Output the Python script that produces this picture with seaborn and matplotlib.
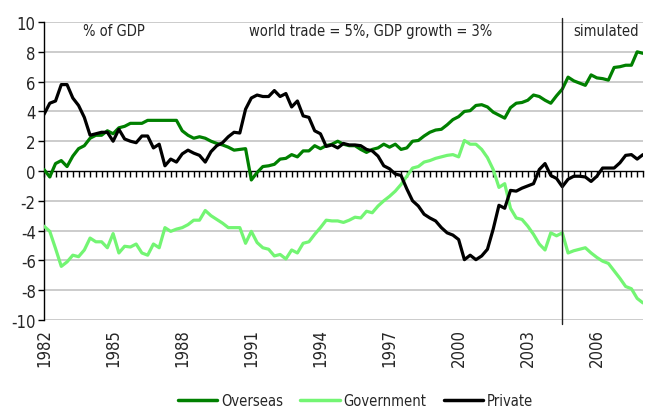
import numpy as np
import pandas as pd
import matplotlib.pyplot as plt
import seaborn as sns
from matplotlib.lines import Line2D

sns.set_theme(style="white")
plt.rcParams['font.family'] = ['DejaVu Sans']
plt.rcParams['font.stretch'] = 'condensed'
plt.rcParams['axes.unicode_minus'] = False

# quarterly, 1982Q1 .. 2008Q1
quarters = 1982 + 0.25 * np.arange(105)

overseas = [0.1, -0.4, 0.5, 0.7, 0.3, 1.0, 1.5, 1.7, 2.2, 2.4, 2.4, 2.7, 2.5, 2.9, 3.0, 3.2, 3.2, 3.2,
            3.4, 3.4, 3.4, 3.4, 3.4, 3.4, 2.7, 2.4, 2.2, 2.3, 2.2, 2.0, 1.85, 1.75, 1.6, 1.4, 1.45, 1.5,
            -0.6, -0.1, 0.3, 0.35, 0.45, 0.8, 0.85, 1.1, 0.95, 1.35, 1.35, 1.7, 1.5, 1.7, 1.8, 2.0, 1.8,
            1.7, 1.7, 1.45, 1.25, 1.45, 1.55, 1.8, 1.6, 1.8, 1.45, 1.55, 2.0, 2.05, 2.35, 2.6, 2.75, 2.8,
            3.1, 3.45, 3.65, 4.0, 4.05, 4.4, 4.45, 4.3, 3.95, 3.75, 3.55, 4.25, 4.55, 4.6, 4.75, 5.1, 5.0,
            4.75, 4.55, 5.05, 5.5, 6.3, 6.05, 5.9, 5.75, 6.45, 6.25, 6.2, 6.1, 6.95, 7.0, 7.1, 7.1, 8.0, 7.9]

government = [-3.7, -4.05, -5.2, -6.4, -6.1, -5.65, -5.75, -5.3, -4.5, -4.75, -4.75, -5.15, -4.2, -5.5,
              -5.05, -5.1, -4.9, -5.5, -5.65, -4.9, -5.15, -3.8, -4.05, -3.9, -3.8, -3.6, -3.3, -3.3,
              -2.65, -3.0, -3.25, -3.5, -3.8, -3.8, -3.8, -4.85, -4.05, -4.8, -5.15, -5.25, -5.7, -5.6,
              -5.9, -5.3, -5.5, -4.85, -4.75, -4.25, -3.8, -3.3, -3.35, -3.35, -3.45, -3.3, -3.1, -3.15,
              -2.7, -2.8, -2.35, -2.0, -1.7, -1.35, -0.9, -0.35, 0.2, 0.3, 0.6, 0.7, 0.85, 0.95, 1.05,
              1.1, 0.95, 2.05, 1.8, 1.8, 1.45, 0.9, 0.1, -1.1, -0.85, -2.5, -3.15, -3.25, -3.7, -4.25,
              -4.9, -5.3, -4.15, -4.35, -4.15, -5.5, -5.35, -5.25, -5.15, -5.5, -5.8, -6.05, -6.2, -6.7,
              -7.2, -7.75, -7.9, -8.55, -8.85]

private = [3.8, 4.55, 4.7, 5.8, 5.8, 4.9, 4.4, 3.6, 2.4, 2.5, 2.6, 2.6, 2.0, 2.8, 2.15, 2.0, 1.9, 2.35,
           2.35, 1.55, 1.8, 0.35, 0.8, 0.6, 1.15, 1.4, 1.2, 1.05, 0.6, 1.3, 1.7, 1.9, 2.3, 2.6, 2.55, 4.15,
           4.9, 5.1, 5.0, 5.0, 5.4, 5.0, 5.2, 4.3, 4.7, 3.7, 3.6, 2.7, 2.5, 1.65, 1.75, 1.55, 1.85, 1.75,
           1.75, 1.7, 1.45, 1.35, 1.0, 0.35, 0.15, -0.2, -0.3, -1.2, -2.0, -2.35, -2.9, -3.15, -3.35, -3.8,
           -4.15, -4.3, -4.6, -5.95, -5.65, -5.95, -5.7, -5.25, -3.9, -2.3, -2.5, -1.3, -1.35, -1.15, -1.0,
           -0.85, 0.1, 0.5, -0.3, -0.5, -1.05, -0.55, -0.35, -0.35, -0.4, -0.7, -0.35, 0.2, 0.2, 0.2, 0.55,
           1.05, 1.1, 0.8, 1.1]

series_names = ['Overseas', 'Government', 'Private']
colours = ['#008000', '#73F573', '#000000']
year_ticks = [1982, 1985, 1988, 1991, 1994, 1997, 2000, 2003, 2006]
sim_start = 2004.5

df = pd.DataFrame({
    'quarter': np.tile(quarters, 3),
    'value': np.concatenate([overseas, government, private]),
    'series': np.repeat(series_names, len(quarters)),
})

fig = plt.figure(figsize=(6.51, 4.14), dpi=100)
ax = fig.add_axes([0.0676, 0.2246, 0.92, 0.7198])

# grid lines first so the data sits on top
for v in range(-10, 11, 2):
    if v != 0:
        ax.axhline(v, color='#c8c8c8', linewidth=1.3, zorder=0)

sns.lineplot(data=df, x='quarter', y='value', hue='series', hue_order=series_names,
             palette=colours, linewidth=2.3, legend=False, ax=ax, zorder=3)

ax.set_xlim(quarters[0], quarters[-1])
ax.set_ylim(-10, 10)
ax.set_xlabel('')
ax.set_ylabel('')

# quarter ticks on the zero line
ax.spines['bottom'].set_position(('data', 0))
ax.spines['top'].set_visible(False)
ax.spines['right'].set_visible(False)
for s in ['bottom', 'left']:
    ax.spines[s].set_color('black')
    ax.spines[s].set_linewidth(1.0)
ax.set_xticks(quarters)
ax.set_xticklabels([])
ax.tick_params(axis='x', direction='out', length=4.5, width=1, color='black', bottom=True)
ax.set_yticks(range(-10, 11, 2))
ax.tick_params(axis='y', direction='out', length=4, width=1, color='black', left=True,
               labelsize=12, pad=2)

# year labels along the bottom
sec = ax.secondary_xaxis(0)
sec.set_xticks(year_ticks)
sec.set_xticklabels([str(y) for y in year_ticks], rotation=90, fontsize=12)
sec.tick_params(length=0, pad=6)
sec.spines['bottom'].set_visible(False)

ax.axvline(sim_start, ymin=-0.015, ymax=1.015, color='#202020', linewidth=1.0, clip_on=False, zorder=4)

ax.text(1985.05, 9.45, '% of GDP', ha='center', va='center', fontsize=10.5)
ax.text(1996.2, 9.45, 'world trade = 5%, GDP growth = 3%', ha='center', va='center', fontsize=10.5)
ax.text(2006.4, 9.45, 'simulated', ha='center', va='center', fontsize=10.5)

handles = [Line2D([0], [0], color=c, lw=2.5, label=n) for n, c in zip(series_names, colours)]
fig.legend(handles=handles, loc='center', bbox_to_anchor=(0.546, 0.03), ncol=3, frameon=False,
           fontsize=10.5, handlelength=2.7, columnspacing=1.2, handletextpad=0.25)

plt.savefig('out.png', dpi=100)
